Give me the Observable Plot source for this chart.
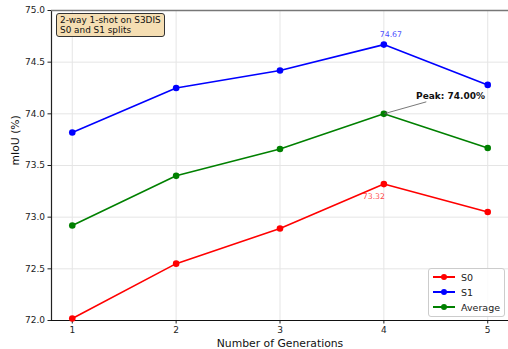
<!DOCTYPE html>
<html><head><meta charset="utf-8">
<script src="https://cdn.jsdelivr.net/npm/d3@7"></script>
<script src="https://cdn.jsdelivr.net/npm/@observablehq/plot@0.6"></script>
<style>
body{margin:0;background:#fff;font-family:"DejaVu Sans",sans-serif;}
#wrap{position:relative;width:508px;height:349px;overflow:hidden;}
#note{position:absolute;left:56px;top:13px;padding:1px 3px;background:#f5deb3;border:1px solid #333;border-radius:3px;font-size:8.9px;line-height:10px;color:#111;}
#legend{position:absolute;left:428px;top:268px;width:75px;height:47px;background:rgba(255,255,255,0.85);border:1px solid #ccc;border-radius:3px;font-size:9.5px;color:#222;}
.row{position:absolute;left:4px;height:14px;display:flex;align-items:center;}
.sw{position:relative;width:22px;height:14px;margin-right:6px;}
.sw .ln{position:absolute;left:0;top:6px;width:22px;height:2px;}
.sw .dt{position:absolute;left:8px;top:4px;width:6px;height:6px;border-radius:50%;}
</style></head>
<body><div id="wrap"></div>
<script>
const generations = [1, 2, 3, 4, 5];
const s0 = [72.02, 72.55, 72.89, 73.32, 73.05];
const s1 = [73.82, 74.25, 74.42, 74.67, 74.28];
const avg = [72.92, 73.40, 73.66, 74.00, 73.67];
const seriesNames = ["S0", "S1", "Average"];
const seriesColors = ["#ff0000", "#0000ff", "#008000"];
const yTicks = [72.0, 72.5, 73.0, 73.5, 74.0, 74.5, 75.0];
const noteLines = ["2-way 1-shot on S3DIS", "S0 and S1 splits"];
const peakLabel = "Peak: 74.00%";
const peakPoint = {x: 4, y: 74.00};
const peakText = {x: 4.31, y: 74.17};
const s1Label = {x: 4, y: 74.67, text: "74.67"};
const s0Label = {x: 4, y: 73.32, text: "73.32"};

const all = [s0, s1, avg];
const rows = [];
all.forEach((vals, i) => vals.forEach((v, j) => rows.push({series: seriesNames[i], x: generations[j], y: v})));

const font = "DejaVu Sans";
const chart = Plot.plot({
  width: 508, height: 349,
  marginLeft: 51, marginRight: 0, marginTop: 10, marginBottom: 29,
  style: {fontFamily: font, fontSize: "9px", color: "#222", background: "#fff"},
  x: {domain: [0.8, 5.2]},
  y: {domain: [72, 75]},
  color: {domain: seriesNames, range: seriesColors},
  marks: [
    Plot.gridX(generations, {stroke: "#e5e5e5", strokeOpacity: 1, strokeWidth: 1}),
    Plot.gridY(yTicks, {stroke: "#e5e5e5", strokeOpacity: 1, strokeWidth: 1}),
    Plot.axisX(generations, {tickSize: 3.5, tickPadding: 3, tickFormat: d => String(d), fontSize: 9, label: null}),
    Plot.axisY(yTicks, {tickSize: 3.5, tickPadding: 3, tickFormat: d => d.toFixed(1), fontSize: 9, label: null}),
    Plot.ruleX([0.8], {stroke: "#222", strokeWidth: 1.2}),
    Plot.ruleY([72], {stroke: "#111", strokeWidth: 1.2}),
    Plot.ruleY([75], {stroke: "#777", strokeWidth: 1.4}),
    Plot.line(rows, {x: "x", y: "y", z: "series", stroke: "series", strokeWidth: 1.6}),
    Plot.dot(rows, {x: "x", y: "y", fill: "series", r: 3.3, stroke: null}),
    Plot.text([s1Label], {x: "x", y: "y", text: "text", dx: 7, dy: -10, fill: "#0000ff", fillOpacity: 0.75, fontSize: 7.8}),
    Plot.text([s0Label], {x: "x", y: "y", text: "text", dx: -10, dy: 12, fill: "#ff0000", fillOpacity: 0.75, fontSize: 7.8}),
    Plot.arrow([{x1: peakText.x + 0.095, y1: peakText.y - 0.055, x2: peakPoint.x, y2: peakPoint.y}], {x1: "x1", y1: "y1", x2: "x2", y2: "y2", stroke: "#555", strokeWidth: 0.8, headLength: 5, insetEnd: 1}),
    Plot.text([peakText], {x: "x", y: "y", text: () => peakLabel, textAnchor: "start", fontWeight: "bold", fontSize: 9, fill: "#111"}),
    Plot.text(["Number of Generations"], {frameAnchor: "bottom", dy: 26, text: d => d, fontSize: 10.8, fill: "#111"}),
    Plot.text(["mIoU (%)"], {frameAnchor: "left", dx: -36, rotate: -90, text: d => d, fontSize: 10.8, fill: "#111"})
  ]
});
const wrap = document.getElementById("wrap");
wrap.appendChild(chart);

const note = document.createElement("div");
note.id = "note";
note.innerHTML = noteLines.join("<br>");
wrap.appendChild(note);

const legend = document.createElement("div");
legend.id = "legend";
seriesNames.forEach((n, i) => {
  const r = document.createElement("div");
  r.className = "row";
  r.style.top = (1 + i * 15) + "px";
  r.innerHTML = `<span class="sw"><span class="ln" style="background:${seriesColors[i]}"></span><span class="dt" style="background:${seriesColors[i]}"></span></span><span>${n}</span>`;
  legend.appendChild(r);
});
wrap.appendChild(legend);
</script></body></html>
